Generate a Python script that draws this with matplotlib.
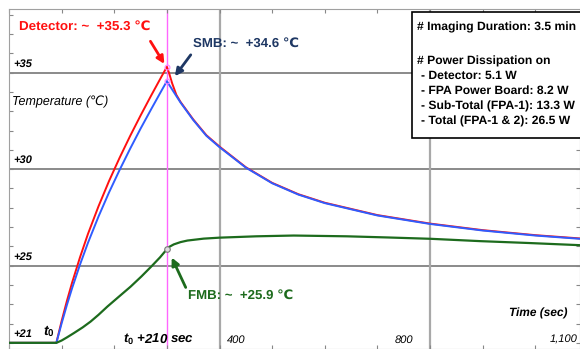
import matplotlib.pyplot as plt
from matplotlib.patches import Rectangle
from matplotlib.ticker import MultipleLocator

# time (sec) and temperature (deg C)
det_t = [0, 90, 100, 110, 120, 135, 150, 170, 190, 210, 230, 250, 270, 290, 300,
         304, 310, 318, 326, 350, 375, 400, 450, 500, 550, 600, 700, 800, 900, 1000, 1085]
det_T = [21, 21, 22.13, 23.17, 24.13, 25.44, 26.64, 28.07, 29.38, 30.58, 31.71, 32.78, 33.81, 34.81, 35.3,
         35.0, 34.45, 33.85, 33.48, 32.58, 31.76, 31.17, 30.1, 29.29, 28.7, 28.26, 27.62, 27.18, 26.84, 26.58, 26.41]

smb_t = [0, 90, 100, 110, 120, 135, 150, 170, 190, 210, 230, 250, 270, 290, 300,
         313, 326, 350, 375, 400, 450, 500, 550, 600, 700, 800, 900, 1000, 1085]
smb_T = [21, 21, 22.01, 22.96, 23.84, 25.06, 26.18, 27.54, 28.79, 29.95, 31.05, 32.1, 33.1, 34.08, 34.56,
         34.0, 33.45, 32.55, 31.73, 31.14, 30.08, 29.27, 28.68, 28.24, 27.6, 27.16, 26.82, 26.56, 26.39]

fmb_t = [0, 90, 100, 110, 123, 140, 155, 170, 187, 210, 231, 252, 272, 287, 300,
         305, 313, 326, 339, 370, 400, 470, 541, 642, 720, 802, 895, 990, 1085]
fmb_T = [21, 21, 21.12, 21.28, 21.5, 21.8, 22.1, 22.45, 22.88, 23.42, 23.91, 24.45, 25.0, 25.43, 25.85,
         25.98, 26.1, 26.22, 26.3, 26.4, 26.45, 26.52, 26.56, 26.52, 26.46, 26.39, 26.27, 26.17, 26.06]

y_grid = [25, 30, 35]
y_labels = ['+25', '+30', '+35']
x_grid = [400, 800]
x_labels = ['400', '800', '1,100']
x_label_pos = [431, 751, 1053]

box_head = ['# Imaging Duration: 3.5 min', '# Power Dissipation on']
box_items = ['- Detector: 5.1 W', '- FPA Power Board: 8.2 W',
             '- Sub-Total (FPA-1): 13.3 W', '- Total (FPA-1 & 2): 26.5 W']

SYM = ['Liberation Sans', 'DejaVu Sans']   # only for texts with the degree sign
plt.rcParams['font.family'] = 'Liberation Sans'
plt.rcParams['text.hinting'] = 'no_hinting'
plt.rcParams['mathtext.fontset'] = 'custom'
plt.rcParams['mathtext.it'] = 'Liberation Sans:italic:bold'
plt.rcParams['mathtext.rm'] = 'Liberation Sans:bold'

RED = '#ff1010'
BLUE = '#2f5cff'
GREEN = '#1d6b1d'
NAVY = '#1f3864'
PINK = '#ff66ff'

fig = plt.figure(figsize=(5.8, 3.49), dpi=100)
ax = fig.add_axes([9 / 580, 0, 571 / 580, 340 / 349])
ax.set_xlim(0, 1085)
ax.set_ylim(20.68, 38.3)

for y in y_grid:
    ax.axhline(y, color='#777777', lw=1.2, zorder=1)
for x in x_grid:
    ax.axvline(x, color='#a8a8a8', lw=1.6, zorder=1)
ax.axvline(300, color=PINK, lw=1.0, zorder=1)

ax.plot(det_t, det_T, color=RED, lw=1.4, zorder=3)
ax.plot(smb_t, smb_T, color=BLUE, lw=1.4, zorder=4)
ax.plot(fmb_t, fmb_T, color=GREEN, lw=1.6, zorder=5)

ax.plot([300, 300], [det_T[14], smb_T[14]], ls='none', marker='o', ms=3.5,
        mfc='none', mec='#ff80ff', mew=0.8, zorder=6)
ax.plot([300], [fmb_T[14]], ls='none', marker='o', ms=4, mfc='#dddddd',
        mec='#777777', mew=0.8, zorder=6)

# ticks inward, no labels
ax.xaxis.set_major_locator(MultipleLocator(100))
ax.yaxis.set_major_locator(MultipleLocator(1))
ax.tick_params(direction='in', length=3, color='#888888', top=True, right=True,
               labelbottom=False, labelleft=False)
for s in ax.spines.values():
    s.set_color('#a0a0a0')

# axis value labels
for y, lab in zip(y_grid + [21], y_labels + ['+21']):
    ax.text(8, y + 0.47, lab, fontsize=8, style='italic', weight='bold',
            va='center', ha='left')
for x, lab in zip(x_label_pos, x_labels):
    ax.text(x, 21.15, lab, fontsize=8, style='italic', va='center', ha='center')

ax.text(6, 33.48, 'Temperature (\u2103)', fontsize=9, style='italic',
        va='center', ha='left', family=SYM)
ax.text(1005, 22.5, 'Time (sec)', fontsize=8.6, style='italic', weight='bold',
        va='center', ha='center')
ax.text(64, 21.62, '$t_0$', fontsize=10, va='center', ha='left')
ax.text(284, 21.2, '$t_0$ +210 sec', fontsize=9.5, style='italic', weight='bold',
        va='center', ha='center')

# annotations
ax.text(19, 37.37, 'Detector: ~  +35.3 \u2103', color=RED, fontsize=9.6,
        weight='bold', va='center', ha='left', family=SYM)
ax.annotate('', xy=(298, 35.33), xytext=(266, 36.75),
            arrowprops=dict(arrowstyle='-|>', color=RED, lw=2, mutation_scale=11))
ax.text(350, 36.49, 'SMB: ~  +34.6 \u2103', color=NAVY, fontsize=9.5,
        weight='bold', va='center', ha='left', family=SYM)
ax.annotate('', xy=(312, 34.7), xytext=(348.5, 36.04),
            arrowprops=dict(arrowstyle='-|>', color=NAVY, lw=2, mutation_scale=11))
ax.text(340, 23.43, 'FMB: ~  +25.9 \u2103', color=GREEN, fontsize=9.5,
        weight='bold', va='center', ha='left', family=SYM)
ax.annotate('', xy=(307, 25.55), xytext=(338, 23.74),
            arrowprops=dict(arrowstyle='-|>', color=GREEN, lw=2, mutation_scale=11))

# info box
ax.add_patch(Rectangle((766, 31.63), 400, 6.51, facecolor='white',
                       edgecolor='black', lw=1.2, zorder=7))
for y, line in zip([37.35, 35.6], box_head):
    ax.text(775, y, line, fontsize=8.7, weight='bold', va='center', ha='left',
            zorder=8)
for y, line in zip([34.84, 34.05, 33.24, 32.46], box_items):
    ax.text(782, y, line, fontsize=8.7, weight='bold', va='center', ha='left',
            zorder=8)

fig.savefig('out.png', dpi=100)
